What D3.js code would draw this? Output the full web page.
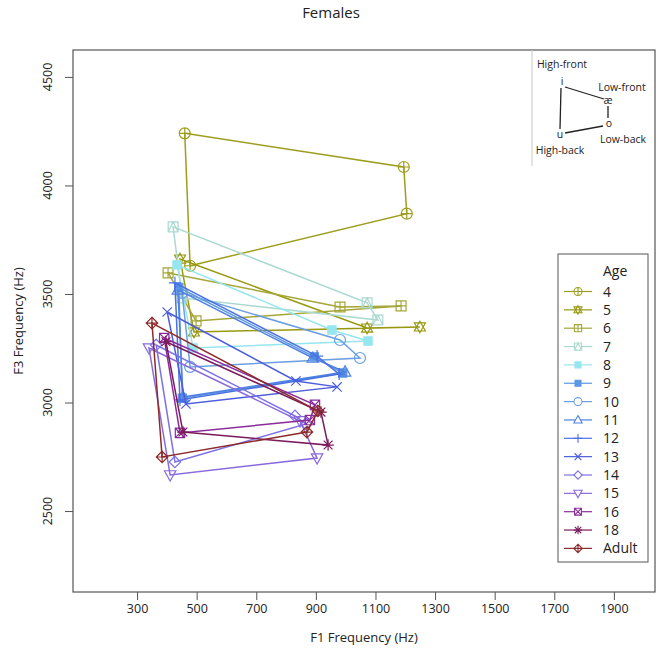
<!DOCTYPE html>
<html>
<head>
<meta charset="utf-8">
<script src="https://cdn.jsdelivr.net/npm/d3@7"></script>
<style>
  body { margin: 0; background: #fff; }
  text { font-family: "Open Sans", "Noto Sans", sans-serif; fill: #222; }
</style>
</head>
<body>
<svg id="chart" width="662" height="650"></svg>
<script>
// ---- Data (vowel order in each polygon: i, æ, o, u) ----
const ages = ["4","5","6","7","8","9","10","11","12","13","14","15","16","18","Adult"];
const colors = ["#9e9e1e","#98980f","#a5a638","#a9d9d0","#96e6ef","#5a98e4","#6c9fe2",
                "#4f82e0","#4a71e2","#4b5ddb","#7c72e6","#8a6adb","#8b2c9b","#7b1b5c","#8c2b2b"];
const symbols = ["circlePlus","starDavid","squarePlus","squareTri","filledSquare","filledSquare","circle",
                 "triUp","plus","cross","diamond","triDown","squareX","asterisk","diamondPlus"];
const F1 = [
  [460, 1195, 1205, 478],
  [444, 1072, 1249, 491],
  [404, 981, 1186, 498],
  [421, 1072, 1108, 451],
  [434, 954, 1075, 488],
  [440, 895, 990, 452],
  [451, 981, 1048, 478],
  [437, 890, 998, 454],
  [427, 904, 978, 444],
  [401, 833, 971, 464],
  [364, 830, 867, 427],
  [340, 847, 904, 411],
  [391, 897, 880, 444],
  [397, 917, 941, 454],
  [350, 907, 870, 384]
];
const F3 = [
  [4240, 4085, 3870, 3630],
  [3661, 3343, 3348, 3325],
  [3597, 3440, 3445, 3376],
  [3809, 3459, 3380, 3482],
  [3634, 3334, 3283, 3251],
  [3530, 3210, 3136, 3020],
  [3505, 3288, 3205, 3164],
  [3519, 3205, 3141, 3025],
  [3551, 3214, 3131, 3012],
  [3417, 3099, 3072, 2993],
  [3265, 2938, 2901, 2726],
  [3251, 2915, 2744, 2666],
  [3297, 2989, 2919, 2860],
  [3280, 2956, 2804, 2864],
  [3366, 2961, 2864, 2749]
];
const xTicks = [300, 500, 700, 900, 1100, 1300, 1500, 1700, 1900];
const yTicks = [2500, 3000, 3500, 4000, 4500];

// ---- Layout ----
const svg = d3.select("#chart");
const L = 73, R = 655, T = 50, B = 592;
const x = d3.scaleLinear().domain([85, 2038]).range([L, R]);
const y = d3.scaleLinear().domain([2127, 4624]).range([B, T]);

// Symbol path generator
function sym(type, s) {
  const c = (r) => `M${r},0A${r},${r} 0 1,1 ${-r},0A${r},${r} 0 1,1 ${r},0Z`;
  const sq = (h) => `M${-h},${-h}H${h}V${h}H${-h}Z`;
  const pl = (h) => `M${-h},0H${h}M0,${-h}V${h}`;
  const cr = (h) => `M${-h},${-h}L${h},${h}M${-h},${h}L${h},${-h}`;
  const dm = (h) => `M0,${-h}L${h},0L0,${h}L${-h},0Z`;
  const tu = (h) => `M0,${-h}L${h*0.95},${h*0.7}L${-h*0.95},${h*0.7}Z`;
  const td = (h) => `M0,${h}L${h*0.95},${-h*0.7}L${-h*0.95},${-h*0.7}Z`;
  switch (type) {
    case "circle": return c(s);
    case "circlePlus": return c(s) + pl(s);
    case "starDavid": return tu(s*1.05) + td(s*1.05);
    case "squarePlus": return sq(s*0.9) + pl(s*0.9);
    case "squareTri": return sq(s*0.9) + `M${-s*0.9},${s*0.9}L0,${-s*0.9}L${s*0.9},${s*0.9}`;
    case "filledSquare": return sq(s*0.75);
    case "triUp": return tu(s*1.1);
    case "triDown": return td(s*1.1);
    case "plus": return pl(s*1.1);
    case "cross": return cr(s*0.85);
    case "diamond": return dm(s*1.05);
    case "squareX": return sq(s*0.85) + cr(s*0.85);
    case "asterisk": return pl(s*1.05) + cr(s*0.8);
    case "diamondPlus": return dm(s*1.05) + pl(s*1.05);
  }
}

// Box
svg.append("rect").attr("x", L).attr("y", T).attr("width", R - L).attr("height", B - T)
  .attr("fill", "none").attr("stroke", "#555").attr("stroke-width", 1.2);

// X axis
const xAxis = svg.append("g").attr("transform", `translate(0,${B})`)
  .call(d3.axisBottom(x).tickValues(xTicks).tickSize(8).tickPadding(4).tickFormat(d3.format("d")));
xAxis.select(".domain").remove();
xAxis.selectAll("line").attr("stroke", "#555");
xAxis.selectAll("text").style("font-family", "Open Sans").style("font-size", "12.5px").attr("fill", "#222");

// Y axis
const yAxis = svg.append("g").attr("transform", `translate(${L},0)`)
  .call(d3.axisLeft(y).tickValues(yTicks).tickSize(8).tickFormat(""));
yAxis.select(".domain").remove();
yAxis.selectAll("line").attr("stroke", "#555");
svg.append("g").selectAll("text").data(yTicks).join("text")
  .attr("transform", d => `translate(52,${y(d)}) rotate(-90)`)
  .attr("text-anchor", "middle").style("font-size", "12.5px").text(d => d);

// Titles
svg.append("text").attr("x", 331).attr("y", 18).attr("text-anchor", "middle")
  .style("font-size", "15px").text("Females");
svg.append("text").attr("x", (L + R) / 2).attr("y", 642).attr("text-anchor", "middle")
  .style("font-size", "13px").text("F1 Frequency (Hz)");
svg.append("text").attr("transform", `translate(23,${(T + B) / 2}) rotate(-90)`)
  .attr("text-anchor", "middle").style("font-size", "13px").text("F3 Frequency (Hz)");

// Polygons
const line = d3.line().x(d => x(d[0])).y(d => y(d[1])).curve(d3.curveLinearClosed);
const plot = svg.append("g");
ages.forEach((a, gi) => {
  const pts = F1[gi].map((v, k) => [v, F3[gi][k]]);
  plot.append("path").attr("d", line(pts)).attr("fill", "none")
    .attr("stroke", colors[gi]).attr("stroke-width", 1.5);
  const filled = symbols[gi] === "filledSquare";
  plot.selectAll(null).data(pts).join("path")
    .attr("transform", d => `translate(${x(d[0])},${y(d[1])})`)
    .attr("d", sym(symbols[gi], 5.5))
    .attr("fill", filled ? colors[gi] : "none")
    .attr("stroke", colors[gi]).attr("stroke-width", 1.2);
});

// Legend
const lg = svg.append("g");
lg.append("rect").attr("x", 558).attr("y", 254).attr("width", 90).attr("height", 308)
  .attr("fill", "#fff").attr("stroke", "#555").attr("stroke-width", 1);
lg.append("text").attr("x", 603).attr("y", 276).style("font-size", "14px").text("Age");
ages.forEach((a, gi) => {
  const yy = 291.5 + gi * 18.35;
  lg.append("line").attr("x1", 564).attr("x2", 592).attr("y1", yy).attr("y2", yy)
    .attr("stroke", colors[gi]).attr("stroke-width", 1.2);
  lg.append("path").attr("transform", `translate(578,${yy})`).attr("d", sym(symbols[gi], 4))
    .attr("fill", symbols[gi] === "filledSquare" ? colors[gi] : "#fff")
    .attr("stroke", colors[gi]).attr("stroke-width", 1.1);
  lg.append("text").attr("x", 603).attr("y", yy + 5).style("font-size", "14px").text(a);
});

// Inset vowel diagram
const ins = svg.append("g");
ins.append("line").attr("x1", 532).attr("x2", 532).attr("y1", 50).attr("y2", 166)
  .attr("stroke", "#c8c8c8").attr("stroke-width", 1);
const insetLines = [[565,87,604,99],[608,106,608,118],[603,126,565,133],[560,129,561,88]];
insetLines.forEach(l => ins.append("line").attr("x1", l[0]).attr("y1", l[1]).attr("x2", l[2]).attr("y2", l[3])
  .attr("stroke", "#222").attr("stroke-width", 1.3));
const insetText = [["High-front",562,68],["i",562,85],["Low-front",622,91],["æ",608,104],
                   ["o",609,127],["u",560,138],["Low-back",623,143],["High-back",560,154]];
insetText.forEach(t => ins.append("text").attr("x", t[1]).attr("y", t[2]).attr("text-anchor", "middle")
  .attr("fill", "#222").style("fill", "#222").style("font-size", "10.5px").text(t[0]));
</script>
</body>
</html>
